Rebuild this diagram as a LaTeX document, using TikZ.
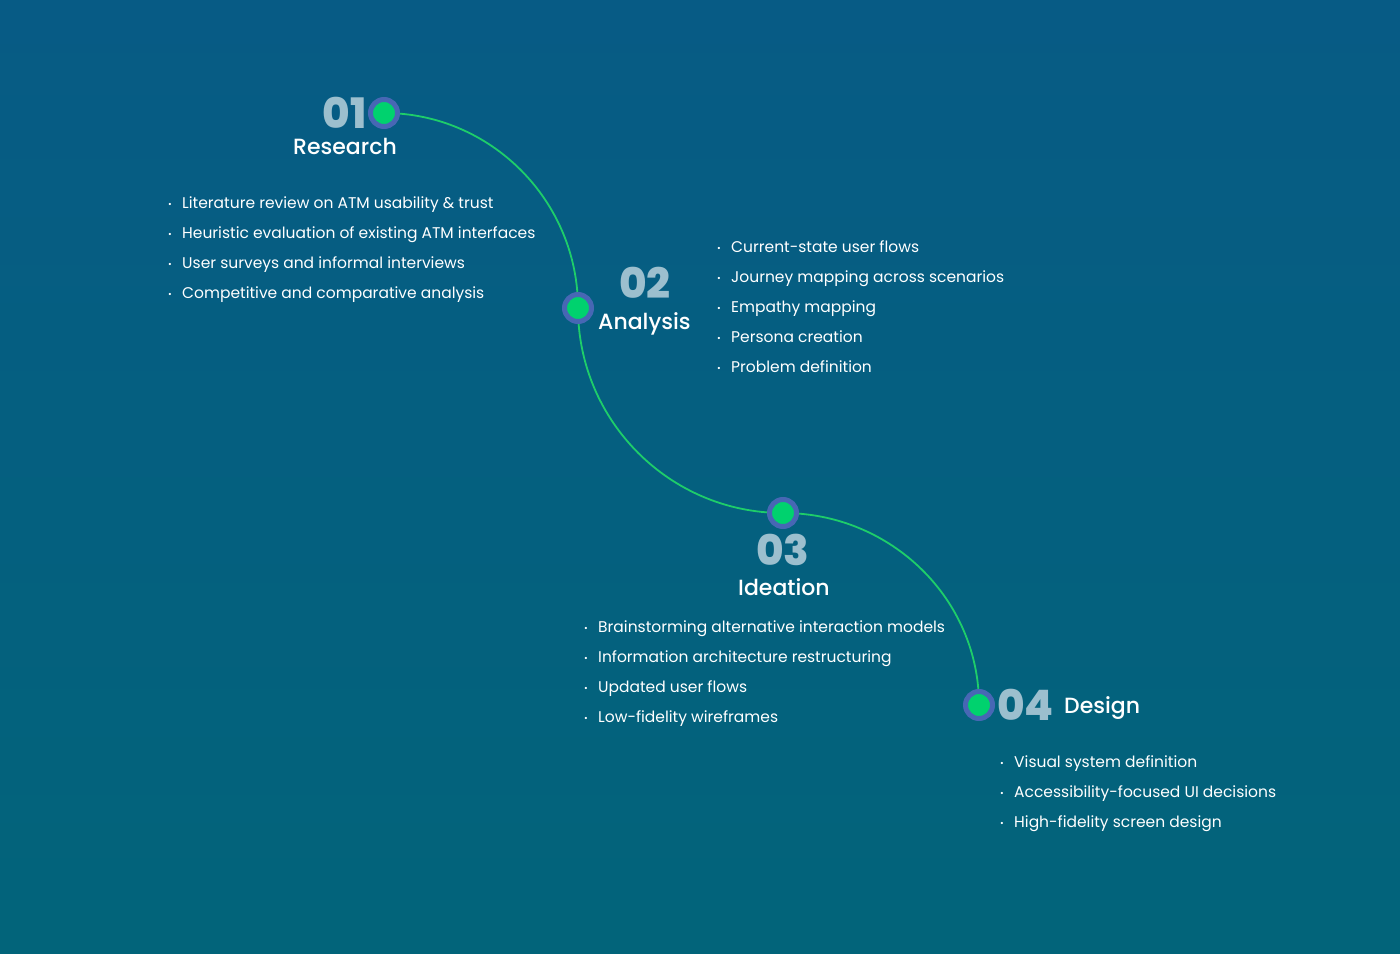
\documentclass[tikz,border=0pt]{standalone}
\usepackage{fontspec}
\setmainfont{Poppins}
\newfontfamily\heavyfont{Poppins ExtraBold}
\newfontfamily\medfont{Poppins Medium}
\definecolor{bgtop}{HTML}{075B85}
\definecolor{bgbot}{HTML}{02647A}
\definecolor{numc}{HTML}{9CBFCE}
\definecolor{dotg}{HTML}{00D26E}
\definecolor{ringc}{HTML}{4767B4}
\definecolor{linec}{HTML}{1ECD6A}
\begin{document}
\begin{tikzpicture}[x=1pt,y=-1pt,
  num/.style={text=numc,font=\fontsize{42}{42}\heavyfont,inner sep=0pt},
  ttl/.style={text=white,font=\fontsize{22}{22}\medfont,inner sep=0pt},
  itm/.style={text=white,font=\fontsize{15.5}{15.5}\selectfont,inner sep=0pt,anchor=base west},
  dot/.style={circle,fill=dotg,draw=ringc,line width=5pt,minimum size=27pt,inner sep=0pt},
  path/.style={draw=linec,line width=1.8pt}]
\shade[top color=bgtop,bottom color=bgbot] (0,0) rectangle (1400,953);
\useasboundingbox (0,0) rectangle (1400,953);
\newcommand{\bl}{\makebox[14pt][l]{\fontsize{9}{9}\selectfont\raisebox{1pt}{•}}}
\coordinate (p1) at (384,113);
\coordinate (p2) at (578,308);
\coordinate (p3) at (783,513);
\coordinate (p4) at (979,705);
\draw[path] (p1) .. controls +(107,0) and +(0,-107) .. (p2)
  .. controls +(0,113) and +(-113,0) .. (p3)
  .. controls +(108,0) and +(0,-106) .. (p4);
\node[dot] (d1) at (p1) {};
\node[dot] (d2) at (p2) {};
\node[dot] (d3) at (p3) {};
\node[dot] (d4) at (p4) {};
% 01
\node[num,anchor=base east] (n1) at (367,128) {01};
\node[ttl,anchor=base] (t1) at (345,154) {Research};
\node[itm] (a1) at (168,208) {\bl Literature review on ATM usability \& trust};
\node[itm] (a2) at (168,238) {\bl Heuristic evaluation of existing ATM interfaces};
\node[itm] (a3) at (168,268) {\bl User surveys and informal interviews};
\node[itm] (a4) at (168,298) {\bl Competitive and comparative analysis};
% 02
\node[num,anchor=base] (n2) at (645,298) {02};
\node[ttl,anchor=base west] (t2) at (598,329) {Analysis};
\node[itm] (b1) at (717,252) {\bl Current-state user flows};
\node[itm] (b2) at (717,282) {\bl Journey mapping across scenarios};
\node[itm] (b3) at (717,312) {\bl Empathy mapping};
\node[itm] (b4) at (717,342) {\bl Persona creation};
\node[itm] (b5) at (717,372) {\bl Problem definition};
% 03
\node[num,anchor=base] (n3) at (783,565) {03};
\node[ttl,anchor=base] (t3) at (784,595) {Ideation};
\node[itm] (c1) at (584,632) {\bl Brainstorming alternative interaction models};
\node[itm] (c2) at (584,662) {\bl Information architecture restructuring};
\node[itm] (c3) at (584,692) {\bl Updated user flows};
\node[itm] (c4) at (584,722) {\bl Low-fidelity wireframes};
% 04
\node[num,anchor=base west] (n4) at (997,720) {04};
\node[ttl,anchor=base west] (t4) at (1064,713) {Design};
\node[itm] (e1) at (1000,767) {\bl Visual system definition};
\node[itm] (e2) at (1000,797) {\bl Accessibility-focused UI decisions};
\node[itm] (e3) at (1000,827) {\bl High-fidelity screen design};
\end{tikzpicture}
\end{document}
